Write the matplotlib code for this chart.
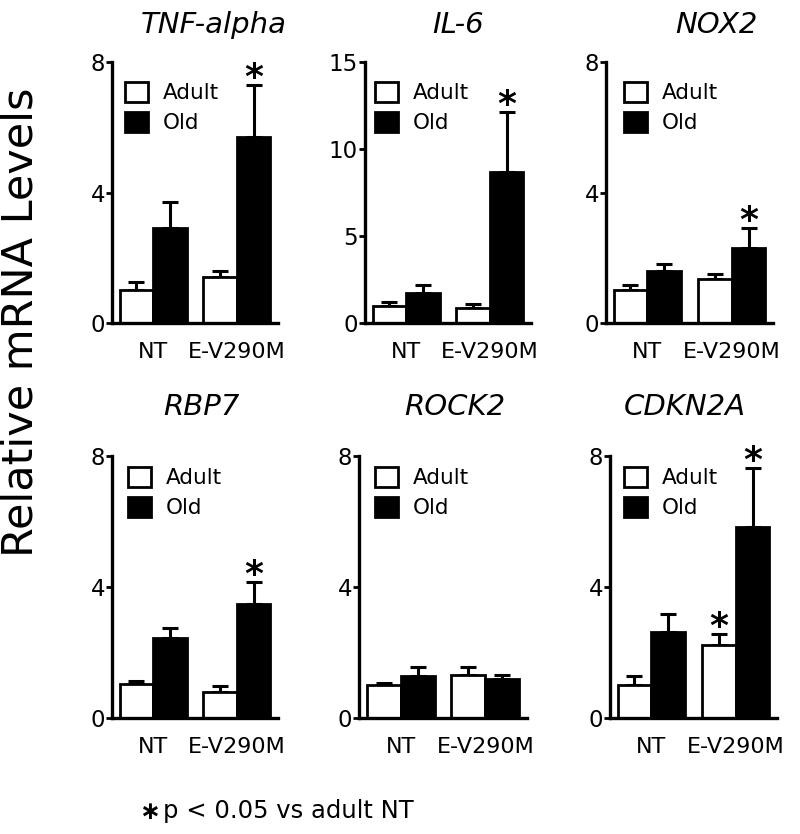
import matplotlib
matplotlib.use("Agg")
import matplotlib.pyplot as plt
from matplotlib.patches import Patch
import numpy as np

plt.rcParams['font.family'] = ['DejaVu Sans']

# ---------------- data ----------------
genes = ["TNF-alpha", "IL-6", "NOX2", "RBP7", "ROCK2", "CDKN2A"]
groups = ["NT", "E-V290M"]
series = ["Adult", "Old"]

adult_mean = [[1.00, 1.40], [1.00, 0.85], [1.00, 1.35], [1.04, 0.80], [1.00, 1.30], [1.00, 2.23]]
adult_sem = [[0.26, 0.20], [0.20, 0.25], [0.15, 0.15], [0.08, 0.18], [0.07, 0.25], [0.28, 0.34]]
old_mean = [[2.90, 5.70], [1.70, 8.70], [1.60, 2.30], [2.44, 3.48], [1.28, 1.18], [2.63, 5.83]]
old_sem = [[0.80, 1.60], [0.50, 3.40], [0.20, 0.60], [0.31, 0.67], [0.28, 0.14], [0.55, 1.80]]

adult_sig = [[False, False], [False, False], [False, False], [False, False], [False, False], [False, True]]
old_sig = [[False, True], [False, True], [False, True], [False, True], [False, False], [False, True]]

y_max = [8, 15, 8, 8, 8, 8]
y_ticks = [[0, 4, 8], [0, 5, 10, 15], [0, 4, 8], [0, 4, 8], [0, 4, 8], [0, 4, 8]]

ylabel_text = "Relative mRNA Levels"
footnote_star = "\u2217"
footnote_text = "p < 0.05 vs adult NT"

# ---------------- layout (pixels) ----------------
W, H = 800, 834
panel_px = [  # left, right, top, bottom
    (112, 278, 62, 323),
    (365, 531, 62, 323),
    (606, 773, 62, 323),
    (112, 278, 456, 718),
    (359, 527, 456, 718),
    (610, 777, 456, 718),
]
title_x = [0.61, 0.56, 0.66, 0.54, 0.57, 0.45]
title_pad = [21, 21, 21, 29.5, 29.5, 29.5]
legend_dx_px = [13, 10, 18, 16, 16, 14]
legend_dy_px = [20, 20, 20, 11, 11, 11]

fig = plt.figure(figsize=(W / 100, H / 100), dpi=100)

bw = 0.4
x = np.arange(len(groups))

for i, gene in enumerate(genes):
    l, r, t, b = panel_px[i]
    ax = fig.add_axes([l / W, 1 - b / H, (r - l) / W, (b - t) / H])

    am, asem = np.array(adult_mean[i]), np.array(adult_sem[i])
    om, osem = np.array(old_mean[i]), np.array(old_sem[i])

    ax.errorbar(x - bw / 2, am, yerr=[np.zeros_like(asem), asem], fmt='none',
                ecolor='black', elinewidth=2.2, capsize=6, capthick=2.2, zorder=1)
    ax.errorbar(x + bw / 2, om, yerr=[np.zeros_like(osem), osem], fmt='none',
                ecolor='black', elinewidth=2.2, capsize=6, capthick=2.2, zorder=1)
    ax.bar(x - bw / 2, am, width=bw, color='white', edgecolor='black', linewidth=2, zorder=2)
    ax.bar(x + bw / 2, om, width=bw, color='black', edgecolor='black', linewidth=2, zorder=2)

    # significance stars
    for j in range(len(groups)):
        if adult_sig[i][j]:
            ax.annotate("*", xy=(x[j] - bw / 2, am[j] + asem[j]), xytext=(0, -2),
                        textcoords='offset points', ha='center', va='baseline',
                        fontsize=26, fontweight='bold', annotation_clip=False)
        if old_sig[i][j]:
            ax.annotate("*", xy=(x[j] + bw / 2, om[j] + osem[j]), xytext=(0, -2),
                        textcoords='offset points', ha='center', va='baseline',
                        fontsize=26, fontweight='bold', annotation_clip=False)

    ax.set_xlim(-0.49, 1.49)
    ax.set_ylim(0, y_max[i])
    ax.set_yticks(y_ticks[i])
    ax.set_yticklabels([str(v) for v in y_ticks[i]])
    ax.tick_params(axis='y', length=4, width=2, pad=1, labelsize=16.5, direction='out')
    ax.set_xticks([])
    for s in ['top', 'right']:
        ax.spines[s].set_visible(False)
    for s in ['left', 'bottom']:
        ax.spines[s].set_linewidth(2.4)

    # group labels
    for j, g in enumerate(groups):
        ax.annotate(g, xy=(x[j], 0), xycoords=('data', 'axes fraction'),
                    xytext=(0, -25), textcoords='offset points',
                    ha='center', va='baseline', fontsize=16)

    ax.set_title(gene, fontstyle='italic', fontsize=21, x=title_x[i], pad=title_pad[i])

    handles = [Patch(facecolor='white', edgecolor='black', linewidth=2),
               Patch(facecolor='black', edgecolor='black', linewidth=2)]
    ax.legend(handles, series, loc='upper left',
              bbox_to_anchor=(legend_dx_px[i] / (r - l), 1 - legend_dy_px[i] / (b - t)),
              frameon=False, fontsize=15.5, handlelength=1.05, handleheight=1.05,
              handletextpad=0.7, labelspacing=0.4, borderpad=0, borderaxespad=0)

fig.text(21 / W, 1 - 322 / H, ylabel_text, rotation=90, ha='center', va='center', fontsize=31)

fig.text(150 / W, 1 - 819 / H, footnote_star, ha='center', va='baseline', fontsize=18, fontweight='bold')
fig.text(163 / W, 1 - 818 / H, footnote_text, ha='left', va='baseline', fontsize=17.5)

fig.savefig("out.png", dpi=100)
